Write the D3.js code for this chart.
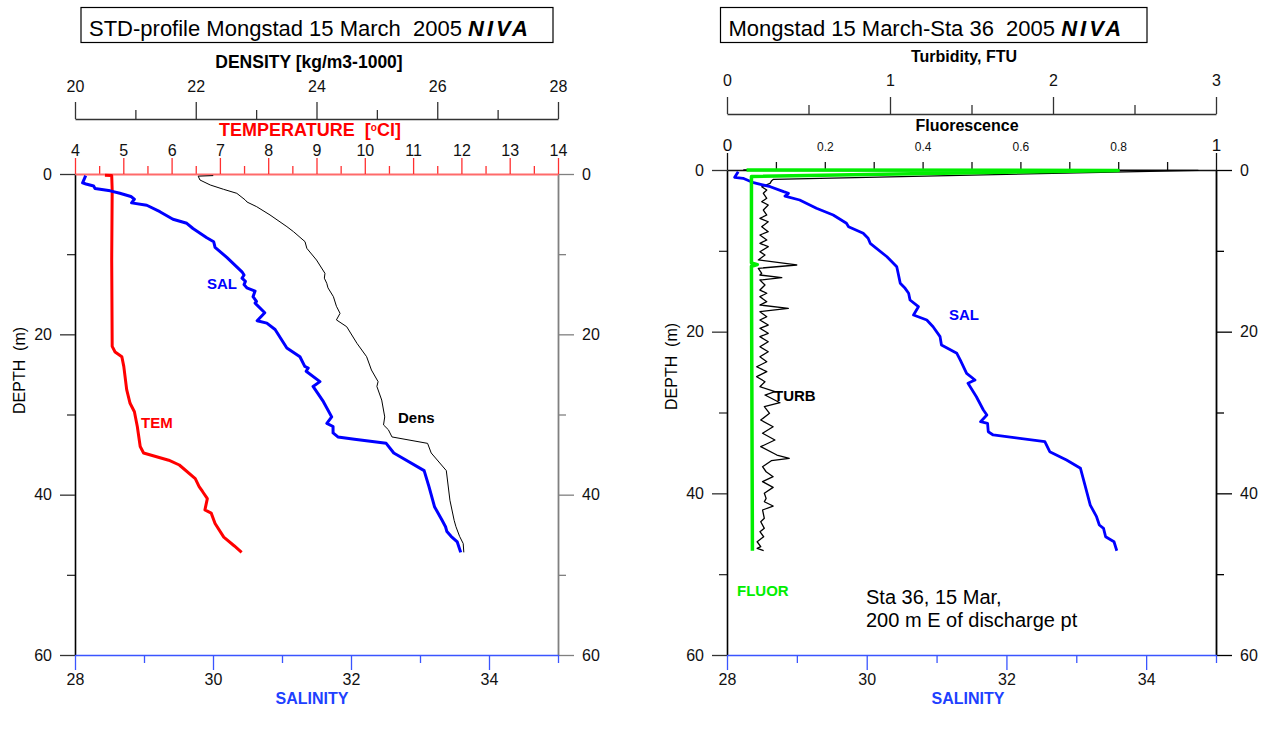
<!DOCTYPE html>
<html>
<head>
<meta charset="utf-8">
<script src="https://cdn.jsdelivr.net/npm/d3@7"></script>
<style>
  body { margin: 0; background: #fff; }
  svg { font-family: "Liberation Sans", Arial, sans-serif; }
  text { white-space: pre; }
</style>
</head>
<body>
<div id="chart"></div>
<script>
//************* data ***************/
// left panel profiles, [depth m, value]
var salLeft = [[0.2,28.155],[1.1,28.11],[1.25,28.16],[1.5,28.27],[1.8,28.29],[2.1,28.51],[2.4,28.65],[2.8,28.81],
  [3.15,28.86],[3.6,28.82],[3.9,29.04],[4.7,29.23],[5.65,29.42],[6.15,29.62],[6.8,29.71],[7.95,29.91],[8.45,30.01],
  [9.15,30.03],[10.4,30.2],[12.2,30.42],[12.6,30.45],[13.0,30.42],[13.4,30.47],[13.8,30.45],[14.2,30.49],[14.6,30.61],
  [15.3,30.58],[15.9,30.63],[16.1,30.61],[17.3,30.75],[18.3,30.64],[18.6,30.78],[19.4,30.9],[21.7,31.07],[22.8,31.26],
  [24.0,31.33],[24.2,31.38],[24.6,31.35],[25.9,31.55],[26.5,31.45],[28.4,31.6],[30.3,31.72],[31.1,31.65],[31.5,31.74],
  [32.3,31.74],[32.8,31.81],[33.1,32.05],[33.6,32.51],[34.8,32.62],[35.3,32.72],[37.0,33.06],[39.0,33.13],[41.5,33.21],
  [43.2,33.32],[44.0,33.37],[44.6,33.39],[45.2,33.45],[45.9,33.54],[47.2,33.59]];

var temLeft = [[0.15,4.62],[0.2,4.76],[2.0,4.77],[10.7,4.76],[21.5,4.77],[22.2,4.83],[22.8,4.97],[24.0,5.01],
  [26.9,5.07],[28.6,5.14],[29.65,5.23],[31.5,5.29],[34.0,5.35],[34.8,5.42],[35.7,5.94],[36.3,6.16],[38.0,6.49],
  [39.0,6.57],[39.6,6.64],[40.5,6.74],[41.9,6.69],[42.3,6.82],[43.6,6.9],[45.3,7.08],[46.4,7.3],[47.2,7.45]];

var denLeft = [[0.2,22.29],[0.27,22.04],[0.75,22.07],[1.37,22.24],[1.91,22.46],[2.41,22.68],[3.24,22.82],[3.5,22.85],
  [4.08,23.01],[5.11,23.23],[6.57,23.51],[7.2,23.62],[8.44,23.81],[9.27,23.84],[10.73,24.0],[12.39,24.14],
  [13.0,24.13],[13.63,24.17],[14.2,24.19],[15.3,24.28],[16.5,24.33],[17.38,24.39],[18.2,24.33],[19.05,24.5],
  [21.12,24.67],[22.79,24.83],[24.45,24.91],[25.9,25.02],[26.5,25.0],[28.2,25.08],[30.3,25.13],[31.3,25.11],
  [31.9,25.19],[32.8,25.25],[33.6,25.84],[34.8,25.9],[37.0,26.15],[40.7,26.21],[43.2,26.28],[44.0,26.31],
  [45.2,26.37],[46.1,26.43],[47.2,26.44]];

// right panel profiles (Sta 36), [depth m, value]
var salRight = [[0.21,28.16],[0.9,28.11],[1.03,28.23],[1.57,28.38],[2.07,28.62],[2.68,28.81],[2.88,28.88],[3.22,28.83],
  [3.71,29.04],[4.74,29.28],[5.57,29.52],[6.59,29.71],[7.01,29.74],[7.83,29.95],[8.45,30.02],[9.07,30.05],[10.73,30.29],
  [11.96,30.43],[12.78,30.45],[14.02,30.48],[14.64,30.55],[15.25,30.6],[16.08,30.62],[16.91,30.74],[17.94,30.67],
  [18.56,30.86],[19.39,30.95],[20.62,31.05],[21.65,31.07],[22.68,31.29],[23.51,31.34],[25.15,31.43],[25.98,31.55],
  [26.39,31.45],[28.05,31.57],[29.69,31.67],[30.31,31.72],[31.14,31.63],[31.34,31.73],[32.38,31.74],[32.78,31.81],
  [33.61,32.55],[34.85,32.62],[35.88,32.86],[36.9,33.06],[39.18,33.13],[41.45,33.2],[42.89,33.29],[43.92,33.33],
  [44.33,33.39],[45.37,33.42],[45.99,33.54],[47.1,33.58]];

var turbRight = [[0.0,0.1],[0.05,2.89],[1.15,0.285],[1.32,0.274],[1.65,0.264],[2.07,0.213],[2.47,0.244],[2.88,0.223],
  [3.5,0.244],[3.92,0.213],[4.33,0.253],[4.95,0.223],[5.57,0.244],[5.98,0.202],[6.4,0.253],[7.01,0.213],[7.63,0.253],
  [8.04,0.202],[8.66,0.244],[9.07,0.202],[9.49,0.253],[10.11,0.202],[10.52,0.233],[11.13,0.192],[11.75,0.428],
  [12.16,0.192],[12.78,0.213],[12.99,0.202],[13.32,0.336],[13.61,0.202],[14.23,0.233],[14.85,0.202],[15.25,0.244],
  [15.67,0.202],[16.29,0.244],[16.7,0.202],[17.11,0.376],[17.53,0.202],[18.15,0.244],[18.56,0.202],[19.18,0.253],
  [19.58,0.202],[20.2,0.253],[20.62,0.202],[21.24,0.253],[21.86,0.202],[22.48,0.253],[23.1,0.202],[23.72,0.244],
  [24.34,0.182],[24.95,0.244],[25.57,0.182],[26.19,0.233],[26.81,0.202],[27.43,0.294],[27.84,0.233],[28.79,0.325],
  [29.28,0.229],[30.1,0.261],[30.93,0.207],[31.76,0.283],[32.57,0.218],[33.4,0.294],[34.23,0.207],[35.26,0.306],
  [35.67,0.382],[35.96,0.272],[36.71,0.218],[37.33,0.24],[37.94,0.283],[38.56,0.218],[39.26,0.283],[40.0,0.229],
  [40.62,0.24],[41.04,0.229],[41.57,0.283],[42.06,0.218],[43.09,0.229],[43.51,0.207],[44.33,0.229],[44.75,0.202],
  [45.37,0.225],[45.99,0.185],[46.6,0.207],[46.8,0.185],[47.1,0.225]];

var fluorRight = [[0.0,0.04],[0.05,0.8],[0.8,0.05],[11.5,0.05],[11.7,0.062],[11.9,0.05],[47.1,0.052]];

// tick values
var depthMajor = [0, 20, 40, 60], depthMinor = [10, 30, 50];
var salMajor = [28, 30, 32, 34], salMinor = [29, 31, 33, 35];
var temMajor = [4, 5, 6, 7, 8, 9, 10, 11, 12, 13, 14], temMinor = [4.5, 5.5, 6.5, 7.5, 8.5, 9.5, 10.5, 11.5, 12.5, 13.5];
var denMajor = [20, 22, 24, 26, 28], denMinor = [21, 23, 25, 27];
var turbMajor = [0, 1, 2, 3], turbMinor = [0.5, 1.5, 2.5];
var fluLabels = [0, 0.2, 0.4, 0.6, 0.8, 1], fluMinor = [0.1, 0.2, 0.3, 0.4, 0.5, 0.6, 0.7, 0.8, 0.9];

//************* setup svg ***************/
var svg = d3.select("#chart").append("svg")
  .attr("width", 1268)
  .attr("height", 731);

var L = {x0: 75, x1: 558, y0: 174, y1: 655};
var R = {x0: 727, x1: 1216, y0: 170, y1: 655};

var yL = d3.scaleLinear().domain([0, 60]).range([L.y0, L.y1]);
var salL = d3.scaleLinear().domain([28, 35]).range([L.x0, L.x1]);
var temX = d3.scaleLinear().domain([4, 14]).range([L.x0, L.x1]);
var denX = d3.scaleLinear().domain([20, 28]).range([L.x0, L.x1]);

var yR = d3.scaleLinear().domain([0, 60]).range([R.y0, R.y1]);
var salR = d3.scaleLinear().domain([28, 35]).range([R.x0, R.x1]);
var turbX = d3.scaleLinear().domain([0, 3]).range([R.x0, R.x1]);
var fluX = d3.scaleLinear().domain([0, 1]).range([R.x0, R.x1]);

var BLUE = "#0000ff", RED = "#ff0000", GREEN = "#00ee00";
var plain = function(d) { return String(d); };

// draw one axis and restyle it
function drawAxis(gen, tx, ty, o) {
  var g = svg.append("g")
    .attr("transform", "translate(" + tx + "," + ty + ")")
    .call(gen)
    .attr("font-family", null)
    .attr("font-size", null);
  if (o.noDomain) g.select(".domain").remove();
  else g.select(".domain").attr("stroke", o.line || o.color).attr("stroke-width", o.lw || 1.5);
  g.selectAll(".tick line").attr("stroke", o.color).attr("stroke-width", o.tw || 1.3);
  g.selectAll(".tick text").attr("fill", o.text || "#111").style("font-size", (o.fs || 16) + "px");
  return g;
}

function depthAxes(y, x0, x1, leftCol, rightCol) {
  drawAxis(d3.axisLeft(y).tickValues(depthMinor).tickSize(8).tickFormat("").tickSizeOuter(0), x0, 0, {color: "#333", noDomain: true});
  drawAxis(d3.axisLeft(y).tickValues(depthMajor).tickSize(15).tickPadding(8).tickFormat(plain).tickSizeOuter(0), x0, 0, {color: "#333", line: leftCol, lw: 1.6});
  drawAxis(d3.axisRight(y).tickValues(depthMinor).tickSize(8).tickFormat("").tickSizeOuter(0), x1, 0, {color: rightCol, noDomain: true});
  drawAxis(d3.axisRight(y).tickValues(depthMajor).tickSize(16).tickPadding(8).tickFormat(plain).tickSizeOuter(0), x1, 0, {color: rightCol, lw: 1.8});
}

function salAxis(x, y1) {
  drawAxis(d3.axisBottom(x).tickValues(salMinor).tickSize(8).tickFormat("").tickSizeOuter(0), 0, y1, {color: "#3a55ff", noDomain: true});
  drawAxis(d3.axisBottom(x).tickValues(salMajor).tickSize(15).tickPadding(4).tickFormat(plain).tickSizeOuter(0), 0, y1, {color: "#3a55ff", lw: 1.6});
}

function label(x, y, txt, size, color, weight, anchor) {
  return svg.append("text")
    .attr("x", x).attr("y", y)
    .attr("font-size", size + "px")
    .attr("fill", color)
    .attr("font-weight", weight || "normal")
    .attr("text-anchor", anchor || "start")
    .text(txt);
}

function titleBox(x, y, w, h, txt) {
  svg.append("rect").attr("x", x).attr("y", y).attr("width", w).attr("height", h)
    .attr("fill", "none").attr("stroke", "#000").attr("stroke-width", 1.2);
  var t = label(x + 8, y + 28, txt, 22, "#000");
  t.append("tspan").attr("font-weight", "bold").attr("font-style", "italic")
    .attr("letter-spacing", 3).text("NIVA");
}

function profile(data, x, y, color, width) {
  svg.append("path")
    .datum(data)
    .attr("fill", "none")
    .attr("stroke", color)
    .attr("stroke-width", width)
    .attr("stroke-linejoin", "round")
    .attr("d", d3.line().x(function(d) { return x(d[1]); }).y(function(d) { return y(d[0]); }));
}

//************* left panel ***************/
titleBox(81, 7.5, 472, 35, "STD-profile Mongstad 15 March  2005 ");
label(309, 68, "DENSITY [kg/m3-1000]", 17.5, "#000", "bold", "middle");

drawAxis(d3.axisTop(denX).tickValues(denMinor).tickSize(9).tickFormat(""), 0, 119, {color: "#333", noDomain: true});
drawAxis(d3.axisTop(denX).tickValues(denMajor).tickSize(17).tickPadding(10).tickFormat(plain).tickSizeOuter(0), 0, 119, {color: "#333", lw: 1.4});

var tLab = label(310, 136, "TEMPERATURE  [", 18, RED, "bold", "middle");
tLab.append("tspan").attr("font-size", "10px").attr("dy", -5).text("o");
tLab.append("tspan").attr("dy", 5).text("Cl]");

depthAxes(yL, L.x0, L.x1, "#000", "#808080");
salAxis(salL, L.y1);

drawAxis(d3.axisTop(temX).tickValues(temMinor).tickSize(8).tickFormat(""), 0, L.y0, {color: "#ff3030", noDomain: true});
drawAxis(d3.axisTop(temX).tickValues(temMajor).tickSize(16).tickPadding(2).tickFormat(plain).tickSizeOuter(0), 0, L.y0, {color: "#ff3030", line: "#ff6a6a", lw: 2.2});

profile(denLeft, denX, yL, "#000", 1);
profile(temLeft, temX, yL, RED, 3);
profile(salLeft, salL, yL, BLUE, 3);

label(207, 289, "SAL", 15, BLUE, "bold");
label(141, 428, "TEM", 15, RED, "bold");
label(398, 423, "Dens", 15, "#000", "bold");
label(312, 704, "SALINITY", 16, "#2040ff", "bold", "middle");
label(25, 414, "DEPTH  (m)", 16, "#000").attr("transform", "rotate(-90,25,414)");

//************* right panel ***************/
titleBox(720.5, 7.5, 426.5, 35, "Mongstad 15 March-Sta 36  2005 ");
label(964, 62, "Turbidity, FTU", 16, "#000", "bold", "middle");

drawAxis(d3.axisTop(turbX).tickValues(turbMinor).tickSize(9).tickFormat(""), 0, 114, {color: "#333", noDomain: true});
drawAxis(d3.axisTop(turbX).tickValues(turbMajor).tickSize(17).tickPadding(11).tickFormat(plain).tickSizeOuter(0), 0, 114, {color: "#333", lw: 1.4});

label(967, 131, "Fluorescence", 16, "#000", "bold", "middle");

depthAxes(yR, R.x0, R.x1, "#000", "#000");
salAxis(salR, R.y1);

drawAxis(d3.axisTop(fluX).tickValues(fluMinor).tickSize(8).tickFormat(""), 0, R.y0, {color: "#111", noDomain: true});
drawAxis(d3.axisTop(fluX).tickValues([0, 1]).tickSize(17).tickFormat("").tickSizeOuter(0), 0, R.y0, {color: "#111", lw: 1.4});
var fl = drawAxis(d3.axisTop(fluX).tickValues(fluLabels).tickSize(0).tickPadding(19)
    .tickFormat(function(d) { return (d === 0 || d === 1) ? String(d) : d.toFixed(1); }), 0, R.y0, {color: "#111", noDomain: true});
fl.selectAll(".tick text").style("font-size", function(d) { return (d === 0 || d === 1) ? "17px" : "12px"; });

profile(turbRight, turbX, yR, "#000", 1.3);
profile(salRight, salR, yR, BLUE, 2.8);
profile(fluorRight, fluX, yR, GREEN, 3.5);

label(949, 320, "SAL", 15, BLUE, "bold");
label(774, 401, "TURB", 15, "#000", "bold");
label(737, 596, "FLUOR", 15, GREEN, "bold");
label(866, 604, "Sta 36, 15 Mar,", 20, "#000");
label(866, 627, "200 m E of discharge pt", 20, "#000");
label(968, 704, "SALINITY", 16, "#2040ff", "bold", "middle");
label(677, 410, "DEPTH  (m)", 16, "#000").attr("transform", "rotate(-90,677,410)");
</script>
</body>
</html>
